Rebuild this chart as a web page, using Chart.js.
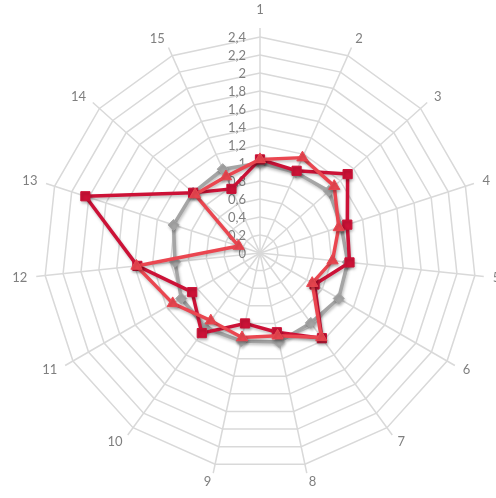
<!DOCTYPE html>
<html>
<head>
<meta charset="utf-8">
<script src="https://cdn.jsdelivr.net/npm/chart.js@4/dist/chart.umd.min.js"></script>
<style>
  html, body { margin: 0; padding: 0; background: #fff; overflow: hidden; }
  #wrap { position: absolute; left: 0; top: 0; width: 496px; height: 498px; }
</style>
</head>
<body>
<div id="wrap"><canvas id="radar"></canvas></div>
<script>
const spokes = ['1', '2', '3', '4', '5', '6', '7', '8', '9', '10', '11', '12', '13', '14', '15'];
const greyValues = [1.0, 0.98, 1.03, 0.95, 0.98, 1.01, 0.96, 1.01, 1.0, 1.03, 1.01, 0.95, 1.01, 1.0, 1.02];
const crimsonValues = [1.04, 1.0, 1.31, 1.02, 1.0, 0.70, 1.17, 0.90, 0.80, 1.10, 0.87, 1.37, 2.04, 1.0, 0.78];
const redValues = [1.04, 1.16, 1.11, 0.92, 0.81, 0.67, 1.16, 0.94, 0.96, 0.93, 1.12, 1.38, 0.25, 0.97, 0.93];
const scaleMax = 2.4;
const scaleStep = 0.2;

const labelFont = 'Lato';
const labelColor = '#7f7f7f';
const webColor = '#d9d9d9';

function commaNum(v) {
    return String(Math.round(v * 10) / 10).replace('.', ',');
}

// office style axis text: spoke stubs past the outer ring, category names
// beyond them, value labels left of the top spoke (all under the lines)
const axisText = {
    id: 'axisText',
    beforeDatasetsDraw(chart) {
        const s = chart.scales.r;
        const ctx = chart.ctx;
        const R = s.drawingArea;
        ctx.save();
        ctx.strokeStyle = webColor;
        ctx.lineWidth = 1.5;
        ctx.font = '13px ' + labelFont;
        ctx.fillStyle = labelColor;
        spokes.forEach((name, i) => {
            const a = s.getPointPosition(i, R);
            const b = s.getPointPosition(i, R + 9);
            ctx.beginPath();
            ctx.moveTo(a.x, a.y);
            ctx.lineTo(b.x, b.y);
            ctx.stroke();

            const p = s.getPointPosition(i, R + 18);
            const dx = p.x - s.xCenter;
            let y = p.y;
            if (Math.abs(dx) < 1) {
                ctx.textAlign = 'center';
                y -= 9;
            } else {
                ctx.textAlign = dx > 0 ? 'left' : 'right';
            }
            ctx.textBaseline = 'middle';
            ctx.fillText(name, p.x, y);
        });

        ctx.textAlign = 'right';
        ctx.textBaseline = 'middle';
        s.ticks.forEach(t => {
            ctx.fillText(commaNum(t.value), s.xCenter - 14, s.yCenter - s.getDistanceFromCenterForValue(t.value) + 1);
        });
        ctx.restore();
    }
};

// soft drop shadow under each series
const lineShadow = {
    id: 'lineShadow',
    beforeDatasetDraw(chart) {
        const ctx = chart.ctx;
        ctx.save();
        ctx.shadowColor = 'rgba(0,0,0,0.25)';
        ctx.shadowBlur = 3;
        ctx.shadowOffsetX = 1;
        ctx.shadowOffsetY = 2;
    },
    afterDatasetDraw(chart) {
        chart.ctx.restore();
    }
};

function series(values, color, shape, size, order) {
    return {
        data: values,
        borderColor: color,
        backgroundColor: color,
        borderWidth: 3.5,
        fill: false,
        tension: 0,
        borderJoinStyle: 'round',
        pointStyle: shape,
        pointRadius: size,
        pointBackgroundColor: color,
        pointBorderColor: color,
        pointBorderWidth: 1,
        order: order
    };
}

new Chart(document.getElementById('radar'), {
    type: 'radar',
    data: {
        labels: spokes,
        datasets: [
            series(greyValues, '#a5a5a5', 'rectRot', 5.5, 2),
            series(crimsonValues, '#cc1237', 'rect', 6.5, 1),
            series(redValues, '#ea4650', 'triangle', 6.5, 0)
        ]
    },
    options: {
        responsive: true,
        maintainAspectRatio: false,
        animation: false,
        layout: { padding: { left: 44, right: 20, top: 37, bottom: 29 } },
        plugins: {
            legend: { display: false },
            tooltip: { enabled: false }
        },
        scales: {
            r: {
                min: 0,
                max: scaleMax,
                ticks: { stepSize: scaleStep, display: false },
                grid: { color: webColor, lineWidth: 1.5, circular: false },
                angleLines: { color: webColor, lineWidth: 1.5 },
                pointLabels: { display: false }
            }
        }
    },
    plugins: [axisText, lineShadow]
});
</script>
</body>
</html>
